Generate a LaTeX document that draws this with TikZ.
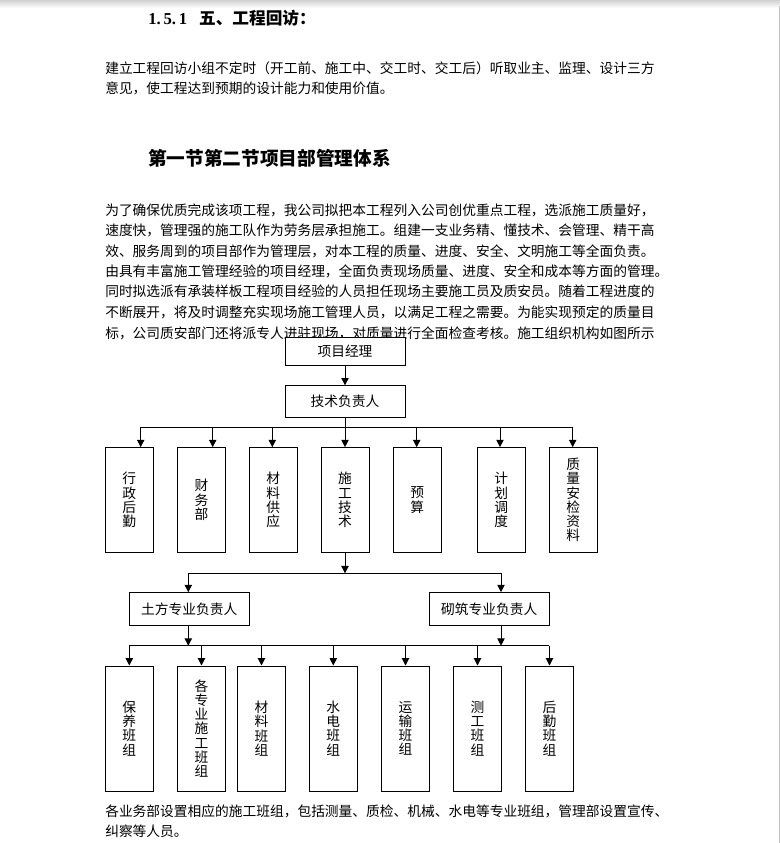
\documentclass[tikz,border=0pt]{standalone}
\usepackage{fontspec}
\setmainfont{Liberation Serif}
\newfontfamily\cjk{Noto Sans CJK SC}
\usepackage{tikz}
\usetikzlibrary{arrows.meta,positioning}
\XeTeXlinebreaklocale "zh"
\XeTeXlinebreakskip=0pt plus 1pt minus 0.4pt
\newcommand{\fullline}[1]{\makebox[414.75pt][s]{#1}}

\begin{document}
\begin{tikzpicture}[
  x=0.75pt,y=-0.75pt,
  txt/.style={anchor=west,inner sep=0pt,font=\cjk\fontsize{10.3}{12}\selectfont},
  head/.style={anchor=west,inner sep=0pt,font=\cjk\bfseries\fontsize{14}{16}\selectfont},
  subhead/.style={anchor=west,inner sep=0pt,font=\cjk\bfseries\fontsize{12.5}{15}\selectfont},
  lead/.style={draw,fill=white,line width=0.75pt,minimum width=90pt,inner sep=0pt,font=\cjk\fontsize{10.3}{12}\selectfont},
  dept/.style={draw,fill=white,line width=0.75pt,minimum width=36pt,inner sep=0pt,align=center,font=\cjk\fontsize{10.3}{10.7}\selectfont},
  link/.style={line width=0.75pt},
  arr/.style={link,-{Triangle[width=5.5pt,length=5.5pt]}}
]
  \useasboundingbox (0,0) rectangle (780,843);
  % page edge
  \shade[top color=black!18,bottom color=white] (0,0) rectangle (780,8);
  \draw[black!25] (779,6) -- (779,843);

  % texts
  \node[subhead] (h1) at (148,18) {\rmfamily 1.\,5.\,1\hspace{9pt}\cjk 五、工程回访：};
  \node[txt] (p1a) at (105,68) {\fullline{建立工程回访小组不定时（开工前、施工中、交工时、交工后）听取业主、监理、设计三方}};
  \node[txt] (p1b) at (105,88) {意见，使工程达到预期的设计能力和使用价值。};
  \node[head] (h2) at (148,158) {第一节第二节项目部管理体系};
  \node[txt] (p2a) at (105,210) {\fullline{为了确保优质完成该项工程，我公司拟把本工程列入公司创优重点工程，选派施工质量好，}};
  \node[txt] (p2b) at (105,230.7) {\fullline{速度快，管理强的施工队作为劳务层承担施工。组建一支业务精、懂技术、会管理、精干高}};
  \node[txt] (p2c) at (105,251) {\fullline{效、服务周到的项目部作为管理层，对本工程的质量、进度、安全、文明施工等全面负责。}};
  \node[txt] (p2d) at (105,271.3) {\fullline{由具有丰富施工管理经验的项目经理，全面负责现场质量、进度、安全和成本等方面的管理。}};
  \node[txt] (p2e) at (105,291.7) {\fullline{同时拟选派有承装样板工程项目经验的人员担任现场主要施工员及质安员。随着工程进度的}};
  \node[txt] (p2f) at (105,312.7) {\fullline{不断展开，将及时调整充实现场施工管理人员，以满足工程之需要。为能实现预定的质量目}};
  \node[txt] (p2g) at (105,333.3) {\fullline{标，公司质安部门还将派专人进驻现场，对质量进行全面检查考核。施工组织机构如图所示}};
  \node[txt] (p3a) at (105,811.7) {\fullline{各业务部设置相应的施工班组，包括测量、质检、机械、水电等专业班组，管理部设置宣传、}};
  \node[txt] (p3b) at (105,831.7) {纠察等人员。};

  % top of chart
  \node[lead,minimum height=21pt] (pm) at (345,351) {项目经理};
  \node[lead,minimum height=23.5pt] (tech) at (345,401.5) {技术负责人};
  \draw[arr] (pm) -- (tech);

  % departments
  \node[dept,minimum height=78.5pt] (d1) at (129.3,500) {行\\政\\后\\勤};
  \node[dept,minimum height=78.5pt] (d2) at (201.5,500) {财\\务\\部};
  \node[dept,minimum height=78.5pt] (d3) at (273.3,500) {材\\料\\供\\应};
  \node[dept,minimum height=78.5pt] (d4) at (345,500) {施\\工\\技\\术};
  \node[dept,minimum height=78.5pt] (d5) at (417.3,500) {预\\算};
  \node[dept,minimum height=78.5pt] (d6) at (501.3,500) {计\\划\\调\\度};
  \node[dept,minimum height=78.5pt] (d7) at (573.3,500) {质\\量\\安\\检\\资\\料};
  \coordinate (t1) at (140.7,427);
  \coordinate (t2) at (212.7,427);
  \coordinate (t3) at (272.3,427);
  \coordinate (t4) at (345,427);
  \coordinate (t5) at (416.7,427);
  \coordinate (t6) at (500,427);
  \coordinate (t7) at (572.7,427);
  \draw[link] (tech) -- (t4);
  \draw[link] (t1) -- (t7);
  \foreach \i in {1,...,7}
    \draw[arr] (t\i) -- (t\i |- d\i.north);

  % trade leads
  \node[lead,minimum height=24.5pt] (earth) at (189.3,609) {土方专业负责人};
  \node[lead,minimum height=24.5pt] (mason) at (489.3,609) {砌筑专业负责人};
  \coordinate (mc) at (345,573.3);
  \coordinate (m1) at (188.3,573.3);
  \coordinate (m2) at (501,573.3);
  \draw[arr] (d4.south) -- (mc);
  \draw[link] (m1) -- (m2);
  \draw[arr] (m1) -- (m1 |- earth.north);
  \draw[arr] (m2) -- (m2 |- mason.north);

  % crews
  \node[dept,minimum height=93.75pt] (c1) at (129.3,728.5) {保\\养\\班\\组};
  \node[dept,minimum height=93.75pt] (c2) at (201.5,728.5) {各\\专\\业\\施\\工\\班\\组};
  \node[dept,minimum height=93.75pt] (c3) at (261.5,728.5) {材\\料\\班\\组};
  \node[dept,minimum height=93.75pt] (c4) at (333.3,728.5) {水\\电\\班\\组};
  \node[dept,minimum height=93.75pt] (c5) at (405.5,728.5) {运\\输\\班\\组};
  \node[dept,minimum height=93.75pt] (c6) at (477.5,728.5) {测\\工\\班\\组};
  \node[dept,minimum height=93.75pt] (c7) at (549.5,728.5) {后\\勤\\班\\组};
  \coordinate (n1) at (129.3,645.7);
  \coordinate (n2) at (549.3,645.7);
  \draw[arr] (m1 |- earth.south) -- (m1 |- n1);
  \draw[arr] (m2 |- mason.south) -- (m2 |- n1);
  \draw[link] (n1) -- (n2);
  \foreach \i in {1,...,7}
    \draw[arr] (c\i.north |- n1) -- (c\i.north);
\end{tikzpicture}
\end{document}
